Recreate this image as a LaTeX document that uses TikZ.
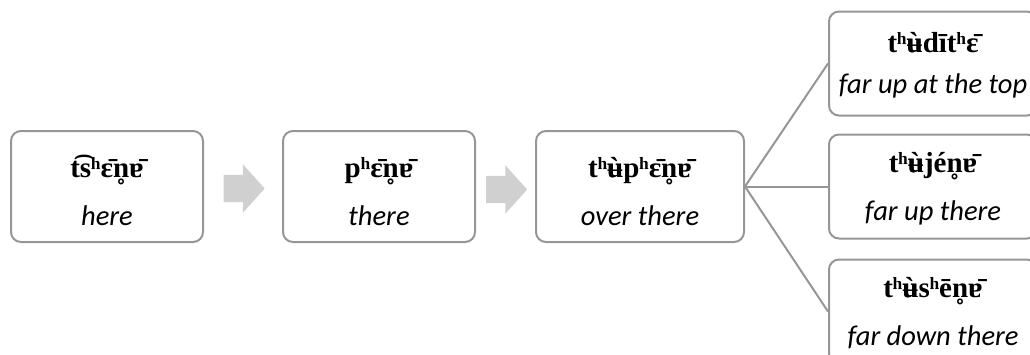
\documentclass[tikz,border=0pt]{standalone}
\usepackage{fontspec}
\newfontfamily\ipafont{Liberation Serif}
\newfontfamily\glossfont{Carlito}
\usepackage{tikz}
\usetikzlibrary{positioning, shapes.arrows, calc}

\definecolor{boxline}{HTML}{969696}
\definecolor{arrowgray}{HTML}{D0D0D0}

\newlength{\ipastrut}
\setlength{\ipastrut}{31pt}

\tikzset{
  wordbox/.style={draw=boxline, line width=2pt, rounded corners=10pt, fill=white,
    align=center, inner sep=0pt, minimum width=192pt, minimum height=111pt},
  branchbox/.style={wordbox, minimum width=208pt, minimum height=104pt,
    execute at begin node={\setlength{\ipastrut}{24pt}}},
  flowarrow/.style={single arrow, fill=arrowgray, draw=none, inner xsep=0pt, inner ysep=13.5pt,
    minimum height=41pt, single arrow head extend=10.5pt, single arrow tip angle=96},
  link/.style={draw=boxline, line width=2pt}
}
% u-bar with a grave accent
\newcommand{\ubargrave}{\ooalign{\hfil ù\hfil\cr ʉ\cr}}
\newcommand{\entry}[2]{{\fontsize{29}{29}\selectfont\ipafont\bfseries\rule{0pt}{\ipastrut}#1}\\[20pt]{\fontsize{28.5}{28.5}\selectfont\glossfont\itshape #2}}

\begin{document}
\begin{tikzpicture}[x=1pt, y=-1pt]
\useasboundingbox (0,0) rectangle (1030,354);
\clip (0,0) rectangle (1030,354);
\node[wordbox] (here) at (107,186.5) {\entry{t͡sʰɛ̄n̥ɐ̄}{here}};
\node[wordbox, right=78pt of here] (there) {\entry{pʰɛ̄n̥ɐ̄}{there}};
\node[wordbox, minimum width=208pt, right=59pt of there] (overthere) {\entry{tʰ\ubargrave pʰɛ̄n̥ɐ̄}{over there}};

\node[branchbox, right=83pt of overthere] (upthere) {\entry{tʰ\ubargrave jén̥ɐ̄}{far up there}};
\node[branchbox, above=17pt of upthere] (uptop) {\entry{tʰ\ubargrave dītʰɛ̄}{far up at the top}};
\node[branchbox, below=19pt of upthere] (downthere) {\entry{tʰ\ubargrave sʰēn̥ɐ̄}{far down there}};

% grey arrows between the boxes
\node[flowarrow] (a1) at ($(here.east)!0.5!(there.west)+(-5,2)$) {};
\node[flowarrow] (a2) at ($(there.east)!0.5!(overthere.west)+(-5,3)$) {};

% branches
\draw[link] (overthere.east) -- (uptop.west);
\draw[link] (overthere.east) -- (upthere.west);
\draw[link] (overthere.east) -- (downthere.west);
\end{tikzpicture}
\end{document}
